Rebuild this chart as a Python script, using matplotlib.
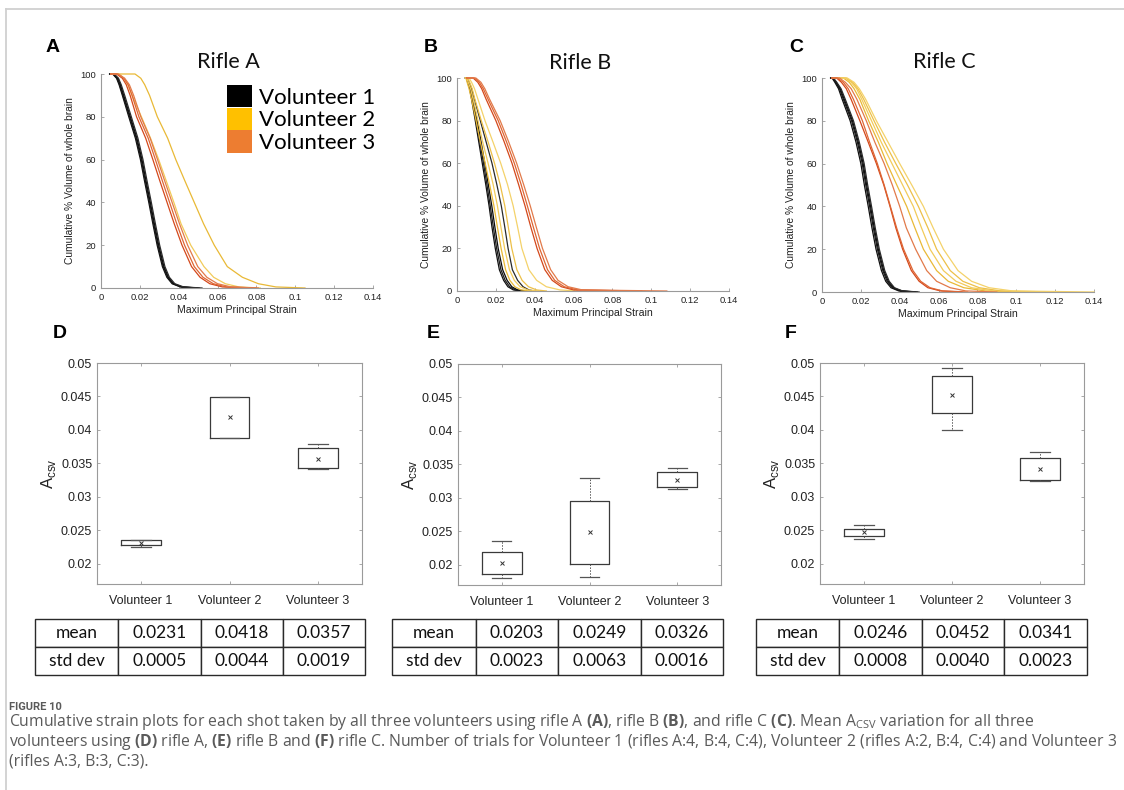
import numpy as np
import matplotlib
matplotlib.use("Agg")
import matplotlib.pyplot as plt
from matplotlib.patches import Patch
from matplotlib.lines import Line2D

plt.rcParams['font.family'] = ['Liberation Sans', 'DejaVu Sans']
plt.rcParams['mathtext.fontset'] = 'custom'
plt.rcParams['mathtext.rm'] = 'Open Sans'
plt.rcParams['mathtext.bf'] = 'Open Sans:bold'

# ---------------- data ----------------
# cumulative % volume levels; each curve lists the strain at these levels
LEVELS = [100, 100, 98, 95, 90, 80, 70, 60, 50, 40, 30, 20, 10, 5, 2, 0.5, 0]

# Rifle A
A_V1 = [
    [0.0044, 0.0060, 0.0080, 0.0093, 0.0110, 0.0143, 0.0177, 0.0203, 0.0224, 0.0246, 0.0267, 0.0289, 0.0316, 0.0339, 0.0366, 0.0408, 0.0480],
    [0.0045, 0.0063, 0.0083, 0.0096, 0.0113, 0.0147, 0.0181, 0.0207, 0.0228, 0.0250, 0.0271, 0.0293, 0.0320, 0.0343, 0.0370, 0.0413, 0.0495],
    [0.0045, 0.0066, 0.0087, 0.0100, 0.0117, 0.0151, 0.0185, 0.0211, 0.0232, 0.0254, 0.0275, 0.0297, 0.0324, 0.0347, 0.0374, 0.0418, 0.0505],
    [0.0046, 0.0068, 0.0090, 0.0104, 0.0122, 0.0156, 0.0190, 0.0216, 0.0237, 0.0259, 0.0280, 0.0302, 0.0329, 0.0352, 0.0380, 0.0425, 0.0520],
]
A_V2 = [
    [0.0050, 0.0175, 0.0205, 0.0225, 0.0250, 0.0290, 0.0343, 0.0385, 0.0432, 0.0480, 0.0528, 0.0583, 0.0650, 0.0728, 0.0810, 0.0900, 0.1050],
    [0.0050, 0.0095, 0.0118, 0.0138, 0.0160, 0.0208, 0.0255, 0.0297, 0.0336, 0.0375, 0.0412, 0.0462, 0.0530, 0.0580, 0.0640, 0.0710, 0.0820],
]
A_V3 = [
    [0.0050, 0.0080, 0.0110, 0.0130, 0.0150, 0.0183, 0.0230, 0.0267, 0.0303, 0.0340, 0.0377, 0.0417, 0.0466, 0.0510, 0.0560, 0.0625, 0.0760],
    [0.0050, 0.0085, 0.0118, 0.0140, 0.0160, 0.0195, 0.0243, 0.0280, 0.0316, 0.0353, 0.0390, 0.0430, 0.0480, 0.0525, 0.0578, 0.0646, 0.0800],
    [0.0050, 0.0088, 0.0122, 0.0146, 0.0168, 0.0205, 0.0253, 0.0291, 0.0328, 0.0366, 0.0404, 0.0446, 0.0498, 0.0545, 0.0600, 0.0670, 0.0810],
]

# Rifle B
B_V1 = [
    [0.0043, 0.0048, 0.0055, 0.0065, 0.0075, 0.0094, 0.0112, 0.0130, 0.0148, 0.0165, 0.0180, 0.0197, 0.0218, 0.0240, 0.0262, 0.0290, 0.0330],
    [0.0043, 0.0049, 0.0057, 0.0068, 0.0079, 0.0099, 0.0118, 0.0136, 0.0154, 0.0171, 0.0187, 0.0204, 0.0226, 0.0248, 0.0271, 0.0300, 0.0345],
    [0.0044, 0.0050, 0.0059, 0.0070, 0.0082, 0.0104, 0.0124, 0.0143, 0.0161, 0.0179, 0.0195, 0.0212, 0.0235, 0.0258, 0.0282, 0.0312, 0.0355],
    [0.0045, 0.0052, 0.0062, 0.0075, 0.0090, 0.0120, 0.0150, 0.0180, 0.0205, 0.0228, 0.0246, 0.0263, 0.0285, 0.0312, 0.0340, 0.0370, 0.0400],
]
B_V2 = [
    [0.0042, 0.0046, 0.0052, 0.0062, 0.0075, 0.0098, 0.0120, 0.0145, 0.0168, 0.0190, 0.0208, 0.0227, 0.0250, 0.0272, 0.0298, 0.0330, 0.0380],
    [0.0044, 0.0050, 0.0058, 0.0070, 0.0083, 0.0108, 0.0132, 0.0160, 0.0186, 0.0208, 0.0226, 0.0245, 0.0270, 0.0295, 0.0325, 0.0365, 0.0420],
    [0.0045, 0.0055, 0.0065, 0.0078, 0.0092, 0.0125, 0.0160, 0.0193, 0.0222, 0.0246, 0.0264, 0.0282, 0.0308, 0.0335, 0.0368, 0.0410, 0.0460],
    [0.0050, 0.0062, 0.0075, 0.0090, 0.0108, 0.0144, 0.0185, 0.0225, 0.0260, 0.0289, 0.0312, 0.0334, 0.0370, 0.0410, 0.0460, 0.0530, 0.0620],
]
B_V3 = [
    [0.0050, 0.0083, 0.0107, 0.0127, 0.0150, 0.0200, 0.0243, 0.0283, 0.0317, 0.0350, 0.0380, 0.0412, 0.0452, 0.0490, 0.0537, 0.0600, 0.0900],
    [0.0050, 0.0090, 0.0115, 0.0135, 0.0160, 0.0212, 0.0255, 0.0295, 0.0330, 0.0362, 0.0393, 0.0425, 0.0466, 0.0503, 0.0552, 0.0620, 0.0950],
    [0.0052, 0.0097, 0.0123, 0.0143, 0.0168, 0.0222, 0.0266, 0.0307, 0.0343, 0.0377, 0.0408, 0.0440, 0.0482, 0.0520, 0.0572, 0.0645, 0.1080],
]

# Rifle C
C_V1 = [
    [0.0044, 0.0052, 0.0066, 0.0085, 0.0104, 0.0145, 0.0175, 0.0200, 0.0218, 0.0238, 0.0257, 0.0278, 0.0306, 0.0328, 0.0355, 0.0395, 0.0470],
    [0.0045, 0.0055, 0.0070, 0.0090, 0.0110, 0.0152, 0.0182, 0.0207, 0.0225, 0.0245, 0.0264, 0.0285, 0.0313, 0.0335, 0.0362, 0.0402, 0.0480],
    [0.0046, 0.0057, 0.0073, 0.0094, 0.0115, 0.0157, 0.0187, 0.0212, 0.0230, 0.0250, 0.0269, 0.0290, 0.0318, 0.0341, 0.0368, 0.0408, 0.0490],
    [0.0046, 0.0059, 0.0076, 0.0098, 0.0120, 0.0162, 0.0192, 0.0217, 0.0235, 0.0255, 0.0274, 0.0295, 0.0323, 0.0346, 0.0373, 0.0414, 0.0500],
]
C_V2 = [
    [0.0060, 0.0110, 0.0140, 0.0165, 0.0195, 0.0240, 0.0290, 0.0335, 0.0385, 0.0436, 0.0478, 0.0522, 0.0590, 0.0650, 0.0730, 0.0840, 0.1000],
    [0.0060, 0.0120, 0.0150, 0.0178, 0.0205, 0.0255, 0.0305, 0.0360, 0.0415, 0.0470, 0.0512, 0.0556, 0.0625, 0.0690, 0.0770, 0.0880, 0.1100],
    [0.0060, 0.0125, 0.0158, 0.0185, 0.0215, 0.0268, 0.0322, 0.0380, 0.0440, 0.0496, 0.0545, 0.0590, 0.0660, 0.0725, 0.0810, 0.0920, 0.1200],
    [0.0060, 0.0130, 0.0165, 0.0192, 0.0225, 0.0280, 0.0340, 0.0400, 0.0462, 0.0522, 0.0572, 0.0625, 0.0700, 0.0770, 0.0860, 0.0980, 0.1400],
]
C_V3 = [
    [0.0050, 0.0075, 0.0100, 0.0125, 0.0150, 0.0195, 0.0238, 0.0280, 0.0318, 0.0350, 0.0380, 0.0415, 0.0460, 0.0500, 0.0545, 0.0610, 0.0720],
    [0.0050, 0.0080, 0.0110, 0.0135, 0.0162, 0.0208, 0.0245, 0.0285, 0.0320, 0.0352, 0.0384, 0.0420, 0.0468, 0.0508, 0.0556, 0.0620, 0.0750],
    [0.0050, 0.0090, 0.0120, 0.0150, 0.0180, 0.0228, 0.0272, 0.0320, 0.0362, 0.0400, 0.0434, 0.0482, 0.0539, 0.0590, 0.0660, 0.0740, 0.0900],
]

VOLUNTEERS = ["Volunteer 1", "Volunteer 2", "Volunteer 3"]
RIFLES = ["Rifle A", "Rifle B", "Rifle C"]

# Box plot statistics (A_CSV) per rifle: [V1, V2, V3]
D_whislo = [0.02254, 0.03875, 0.03419]
D_q1     = [0.02283, 0.03875, 0.03438]
D_q3     = [0.02350, 0.04495, 0.03726]
D_whishi = [0.02357, 0.04495, 0.03796]
D_mean   = [0.02317, 0.04188, 0.03572]

E_whislo = [0.01811, 0.01821, 0.03137]
E_q1     = [0.01866, 0.02020, 0.03162]
E_q3     = [0.02194, 0.02949, 0.03381]
E_whishi = [0.02353, 0.03296, 0.03451]
E_mean   = [0.02035, 0.02487, 0.03262]

F_whislo = [0.02372, 0.03998, 0.03245]
F_q1     = [0.02412, 0.04256, 0.03260]
F_q3     = [0.02521, 0.04812, 0.03582]
F_whishi = [0.02575, 0.04931, 0.03676]
F_mean   = [0.02471, 0.04529, 0.03413]

# Table values
D_tab_mean = [0.0231, 0.0418, 0.0357]
D_tab_std  = [0.0005, 0.0044, 0.0019]
E_tab_mean = [0.0203, 0.0249, 0.0326]
E_tab_std  = [0.0023, 0.0063, 0.0016]
F_tab_mean = [0.0246, 0.0452, 0.0341]
F_tab_std  = [0.0008, 0.0040, 0.0023]

# ---------------- styling ----------------
W, H = 1124, 790
fig = plt.figure(figsize=(W / 100, H / 100), dpi=100)

def fx(px):
    return px / W

def fy(py):
    return 1 - py / H

def rect(l, t, r, b):
    return [fx(l), fy(b), fx(r) - fx(l), fy(t) - fy(b)]

BLACKS = ['#101010', '#1c1c1c', '#0a0a0a', '#2a2a2a']
YELLOWS = ['#E9B936', '#F2CB5A', '#EDC048', '#F4D26A']
ORANGES = ['#D4481B', '#DE6533', '#E27A4A']
SPINE = '#9a9a9a'
TICKC = '#222222'

def curve_panel(rc, groups, title, title_xy, letter, letter_xy):
    ax = fig.add_axes(rc)
    for curves, cols in groups:
        for vals, c in zip(curves, cols):
            ax.plot(vals, LEVELS, color=c, lw=0.9, clip_on=False, solid_joinstyle='round')
    ax.set_xlim(0, 0.14)
    ax.set_ylim(0, 100)
    xt = np.round(np.arange(0, 0.1401, 0.02), 2)
    ax.set_xticks(xt)
    ax.set_xticklabels([f"{v:g}" for v in xt])
    ax.set_yticks([0, 20, 40, 60, 80, 100])
    for s in ['top', 'right']:
        ax.spines[s].set_visible(False)
    for s in ['left', 'bottom']:
        ax.spines[s].set_color(SPINE)
        ax.spines[s].set_linewidth(0.8)
    ax.tick_params(direction='in', length=2.5, width=0.6, color=SPINE,
                   labelsize=6.8, labelcolor=TICKC, pad=3.5)
    ax.set_xlabel('Maximum Principal Strain', fontsize=7.6, color=TICKC, labelpad=2.5)
    ax.set_ylabel('Cumulative % Volume of whole brain', fontsize=7.4, color=TICKC, labelpad=4)
    fig.text(fx(title_xy[0]), fy(title_xy[1]), title, fontsize=15.5,
             family=['Lato', 'DejaVu Sans'], color='#111', ha='center', va='center')
    fig.text(fx(letter_xy[0]), fy(letter_xy[1]), letter, fontsize=14, fontweight='bold',
             ha='center', va='center')
    return ax

axA = curve_panel(rect(101, 74, 373, 288),
                  [(A_V1, BLACKS), (A_V2, YELLOWS), (A_V3, ORANGES)],
                  RIFLES[0], (228, 62), 'A', (53, 47))
axB = curve_panel(rect(457, 78, 729, 291),
                  [(B_V1, BLACKS), (B_V2, YELLOWS), (B_V3, ORANGES)],
                  RIFLES[1], (580, 63), 'B', (431, 47))
axC = curve_panel(rect(822, 78, 1094, 292),
                  [(C_V1, BLACKS), (C_V2, YELLOWS), (C_V3, ORANGES)],
                  RIFLES[2], (944, 62), 'C', (796, 47))

legend_handles = [Patch(facecolor='#000000', edgecolor='none'),
                  Patch(facecolor='#FFC000', edgecolor='none'),
                  Patch(facecolor='#ED7D31', edgecolor='none')]
axA.legend(legend_handles, VOLUNTEERS, loc='upper left', bbox_to_anchor=(0.465, 0.95),
           frameon=False, handlelength=1.1, handleheight=1.2,
           labelspacing=0.0, handletextpad=0.3, borderpad=0, borderaxespad=0,
           prop={'family': ['Lato', 'DejaVu Sans'], 'size': 16})

def box_panel(rc, whislo, q1, q3, whishi, mean, letter, letter_xy):
    ax = fig.add_axes(rc)
    stats = []
    for i in range(3):
        stats.append(dict(med=mean[i], q1=q1[i], q3=q3[i], whislo=whislo[i],
                          whishi=whishi[i], mean=mean[i], fliers=[]))
    ax.bxp(stats, positions=[1, 2, 3], widths=0.45, capwidths=0.22,
           showmeans=True, showfliers=False,
           boxprops=dict(color='#3a3a3a', lw=0.9),
           whiskerprops=dict(color='#555555', lw=0.7, linestyle=(0, (1.5, 1.5))),
           capprops=dict(color='#555555', lw=0.9),
           medianprops=dict(lw=0),
           meanprops=dict(marker='x', markeredgecolor='#333333', markersize=3.5,
                          markeredgewidth=0.7))
    ax.set_xlim(0.5, 3.5)
    ax.set_ylim(0.017, 0.05)
    yt = [0.02, 0.025, 0.03, 0.035, 0.04, 0.045, 0.05]
    ax.set_yticks(yt)
    ax.set_yticklabels([f"{v:g}" for v in yt])
    ax.set_xticks([1, 2, 3])
    ax.set_xticklabels(VOLUNTEERS)
    for s in ax.spines.values():
        s.set_color(SPINE)
        s.set_linewidth(0.8)
    ax.tick_params(direction='in', length=2.5, width=0.6, color=SPINE,
                   top=True, right=True, labelsize=9, labelcolor=TICKC)
    ax.tick_params(axis='x', pad=8)
    ax.set_ylabel(r'A$_{\mathregular{csv}}$', fontsize=12, color='#222', labelpad=2)
    fig.text(fx(letter_xy[0]), fy(letter_xy[1]), letter, fontsize=14, fontweight='bold',
             ha='center', va='center')
    return ax

box_panel(rect(97, 363, 362, 584), D_whislo, D_q1, D_q3, D_whishi, D_mean, 'D', (60, 333))
box_panel(rect(458, 364, 721, 585), E_whislo, E_q1, E_q3, E_whishi, E_mean, 'E', (433, 333))
box_panel(rect(820, 363, 1084, 584), F_whislo, F_q1, F_q3, F_whishi, F_mean, 'F', (791, 333))

def table_panel(left, right, top, bottom, means, stds, cols):
    ax = fig.add_axes(rect(left, top, right, bottom))
    ax.axis('off')
    cells = [['mean'] + [f"{m:.4f}" for m in means],
             ['std dev'] + [f"{s:.4f}" for s in stds]]
    total = right - left
    tbl = ax.table(cellText=cells, bbox=[0, 0, 1, 1], cellLoc='center',
                   colWidths=[c / total for c in cols])
    tbl.auto_set_font_size(False)
    tbl.set_fontsize(12.5)
    for cell in tbl.get_celld().values():
        cell.set_edgecolor('#2a2a2a')
        cell.set_linewidth(1.0)
        cell.get_text().set_fontfamily(['Lato', 'DejaVu Sans'])
        cell.get_text().set_color('#111')

table_panel(35, 365, 619, 675, D_tab_mean, D_tab_std, [83, 83, 82, 82])
table_panel(392, 723, 619, 675, E_tab_mean, E_tab_std, [84, 82, 83, 82])
table_panel(756, 1087, 619, 675, F_tab_mean, F_tab_std, [83, 83, 82, 83])

# frame lines
fig.add_artist(Line2D([fx(6), fx(6)], [0, fy(9)], transform=fig.transFigure,
                      color='#d0d0d0', lw=1.3))
fig.add_artist(Line2D([fx(6), 1], [fy(9), fy(9)], transform=fig.transFigure,
                      color='#d0d0d0', lw=1.3))

# caption
CAPC = '#5a5a5a'
fig.text(fx(9), fy(707), 'FIGURE 10', fontsize=8, fontweight='bold', color=CAPC,
         family=['Roboto', 'DejaVu Sans'], va='center', ha='left')
cap1 = (r"Cumulative strain plots for each shot taken by all three volunteers using rifle A "
        r"$\mathbf{(A)}$, rifle B $\mathbf{(B)}$, and rifle C $\mathbf{(C)}$. Mean "
        r"A$_{\mathrm{CSV}}$ variation for all three")
cap2 = (r"volunteers using $\mathbf{(D)}$ rifle A, $\mathbf{(E)}$ rifle B and $\mathbf{(F)}$ "
        r"rifle C. Number of trials for Volunteer 1 (rifles A:4, B:4, C:4), Volunteer 2 "
        r"(rifles A:2, B:4, C:4) and Volunteer 3")
cap3 = "(rifles A:3, B:3, C:3)."
for txt, yy in [(cap1, 722), (cap2, 742), (cap3, 762)]:
    fig.text(fx(9), fy(yy), txt, fontsize=11.35, color=CAPC,
             family=['Open Sans', 'DejaVu Sans'], va='center', ha='left')

fig.savefig('out.png', dpi=100)
